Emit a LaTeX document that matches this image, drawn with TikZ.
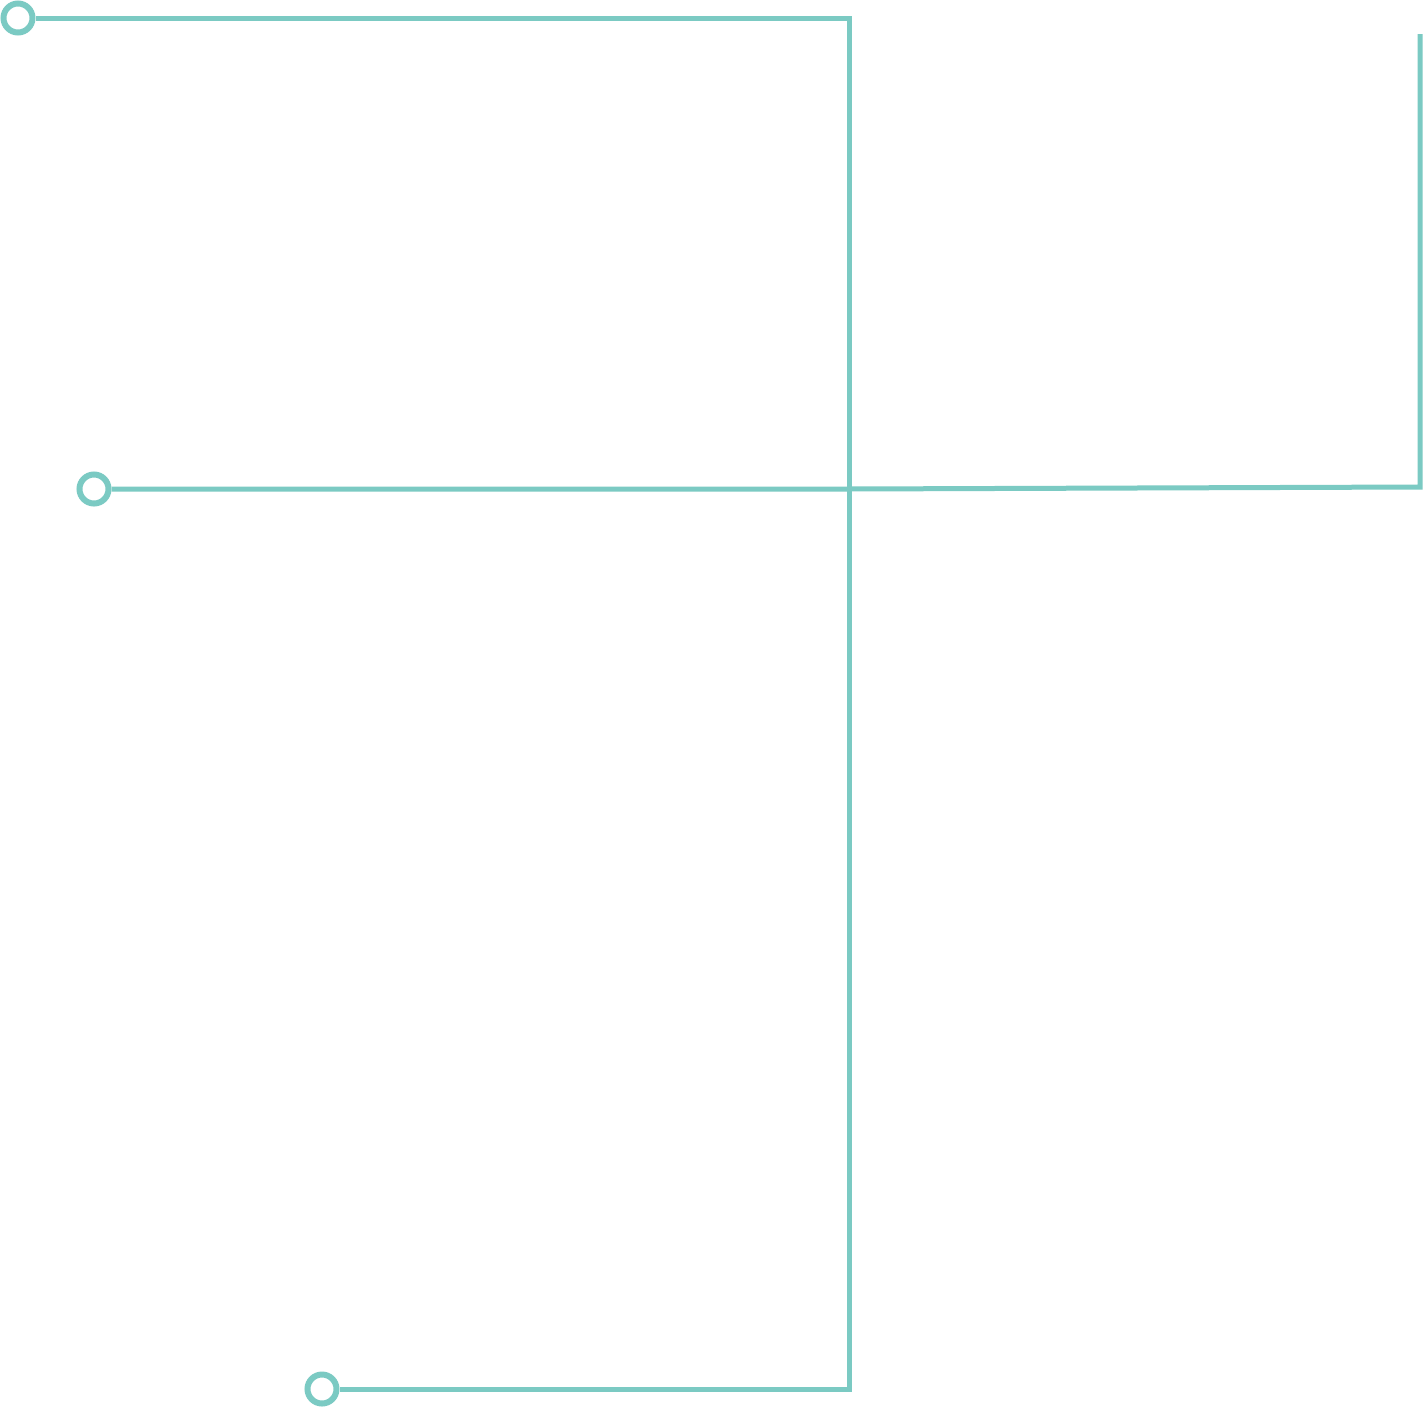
\documentclass[tikz,border=0pt]{standalone}
\begin{document}
\begin{tikzpicture}[x=1pt,y=-1pt,
  wire/.style={draw=teal1,line width=5pt,line join=miter,line cap=butt},
  term/.style={circle,draw=teal1,line width=6pt,fill=white,minimum size=29pt,inner sep=0pt}]
\definecolor{teal1}{HTML}{7BCAC3}
\useasboundingbox[fill=white] (0,0) rectangle (1424,1409);
\coordinate (tr) at (849,18);
\coordinate (mid) at (849,490);
\coordinate (br) at (849,1389);
\coordinate (rc) at (1420,487);
\coordinate (rt) at (1420,34);
\node[term] (c1) at (18,18) {};
\node[term] (c2) at (94,489) {};
\node[term] (c3) at (322,1389) {};
\draw[wire] (c1) -- (tr) -- (br) -- (c3);
\draw[wire] (c2) -- (849,489) -- (rc) -- (rt);
\end{tikzpicture}
\end{document}
